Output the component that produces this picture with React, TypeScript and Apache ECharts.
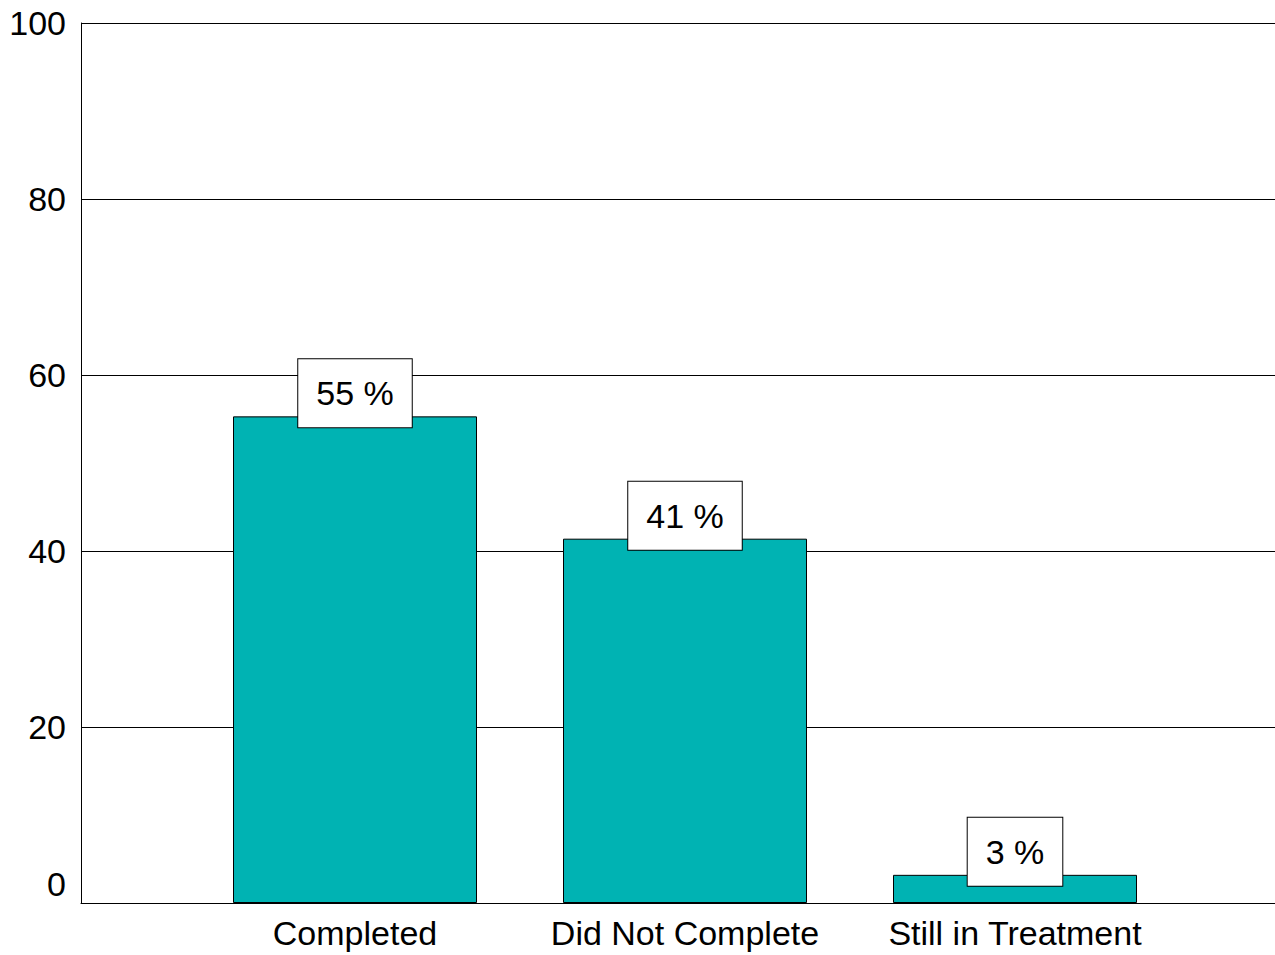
import React, { useEffect, useRef } from "react";
import * as echarts from "echarts";

const categories = ["Completed", "Did Not Complete", "Still in Treatment"];
const values = [55.3, 41.4, 3.2];
const yTicks = { min: 0, max: 100, interval: 20 };

const FONT = "'Liberation Sans', Arial, Helvetica, sans-serif";

export default function App() {
  const ref = useRef<HTMLDivElement>(null);
  useEffect(() => {
    if (!ref.current) return;
    const chart = echarts.init(ref.current, null, { renderer: "svg" });
    chart.setOption({
      animation: false,
      backgroundColor: "#ffffff",
      grid: [
        { left: 81, top: 23, right: 0, bottom: 52, containLabel: false },
        { left: 190, top: 23, width: 990, bottom: 52, containLabel: false },
      ],
      xAxis: [
        {
          type: "category",
          gridIndex: 0,
          data: [""],
          axisLine: { show: true, lineStyle: { color: "#000", width: 1 } },
          axisTick: { show: false },
          axisLabel: { show: false },
          splitLine: { show: false },
        },
        {
          type: "category",
          gridIndex: 1,
          data: categories,
          axisLine: { show: false },
          axisTick: { show: false },
          axisLabel: {
            show: true,
            interval: 0,
            hideOverlap: false,
            color: "#000",
            fontFamily: FONT,
            fontSize: 34,
            margin: 13,
          },
          splitLine: { show: false },
        },
      ],
      yAxis: [
        {
          type: "value",
          gridIndex: 0,
          min: yTicks.min,
          max: yTicks.max,
          interval: yTicks.interval,
          axisLine: { show: true, lineStyle: { color: "#000", width: 1 } },
          axisTick: { show: false },
          axisLabel: {
            color: "#000",
            fontFamily: FONT,
            fontSize: 34,
            margin: 15,
            formatter: (v: number) => (v === 0 ? "{z|0}" : String(v)),
            rich: {
              z: {
                color: "#000",
                fontFamily: FONT,
                fontSize: 34,
                padding: [0, 0, 38, 0],
              },
            },
          },
          splitLine: { show: true, lineStyle: { color: "#000", width: 1 } },
        },
        {
          type: "value",
          gridIndex: 1,
          min: yTicks.min,
          max: yTicks.max,
          interval: yTicks.interval,
          show: false,
          splitLine: { show: false },
        },
      ],
      series: [
        {
          type: "bar",
          xAxisIndex: 1,
          yAxisIndex: 1,
          data: values,
          barWidth: 244,
          itemStyle: { color: "#00B3B3", borderColor: "#000", borderWidth: 1 },
          label: {
            show: true,
            position: "top",
            distance: -11,
            formatter: (p: any) => `${Math.round(p.value)} %`,
            color: "#000",
            fontFamily: FONT,
            fontSize: 34,
            lineHeight: 34,
            backgroundColor: "#fff",
            borderColor: "#000",
            borderWidth: 1,
            padding: [17, 18],
          },
        },
      ],
    });
    return () => chart.dispose();
  }, []);
  return (
    <div
      ref={ref}
      style={{ position: "absolute", left: 0, top: 0, width: 1275, height: 955 }}
    />
  );
}
